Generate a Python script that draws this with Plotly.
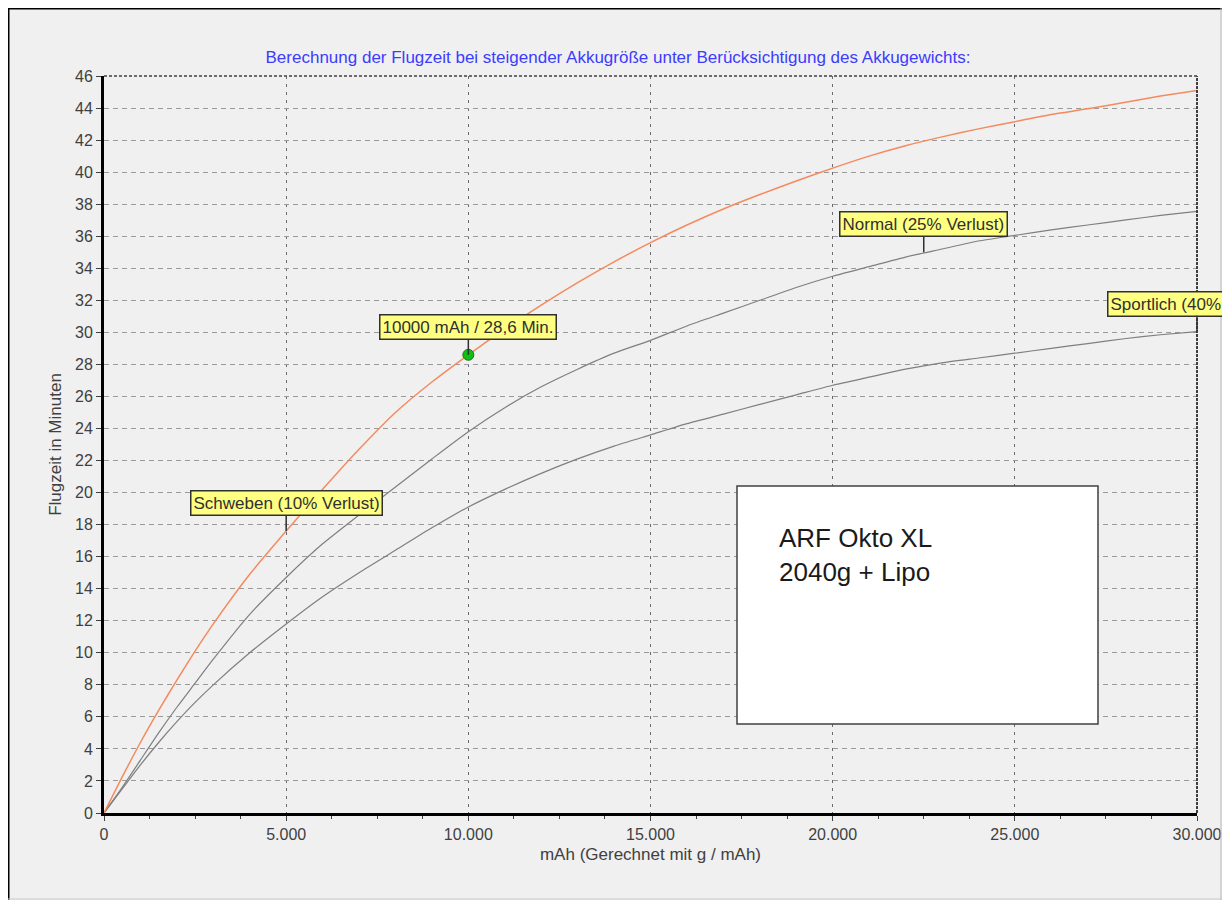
import plotly.graph_objects as go

# ---- data ----
mah = [0, 500, 1000, 1500, 2000, 2500, 3000, 4000, 5000, 6000, 7000, 8000, 9000, 10000,
       11000, 12000, 13000, 14000, 15000, 16000, 17000, 18000, 19000, 20000,
       21000, 22000, 23000, 24000, 25000, 26000, 27000, 28000, 29000, 30000]
schweben = [0, 2.25, 4.4, 6.4, 8.3, 10.1, 11.8, 14.9, 17.6, 20.2, 22.7, 25.0, 26.9, 28.6,
            30.2, 31.7, 33.1, 34.4, 35.6, 36.7, 37.7, 38.6, 39.45, 40.25,
            41.0, 41.65, 42.2, 42.7, 43.15, 43.6, 43.95, 44.35, 44.75, 45.1]
normal = [0, 1.6, 3.3, 5.0, 6.6, 8.1, 9.6, 12.4, 14.7, 16.8, 18.6, 20.35, 22.1, 23.8,
          25.3, 26.6, 27.7, 28.7, 29.5, 30.4, 31.2, 32.0, 32.8, 33.5,
          34.1, 34.7, 35.2, 35.7, 36.05, 36.4, 36.7, 37.0, 37.3, 37.55]
sportlich = [0, 1.5, 3.0, 4.4, 5.7, 6.9, 8.0, 10.0, 11.8, 13.5, 15.0, 16.4, 17.8, 19.1,
             20.2, 21.2, 22.1, 22.9, 23.6, 24.3, 24.9, 25.5, 26.1, 26.7,
             27.2, 27.7, 28.1, 28.4, 28.7, 29.0, 29.3, 29.6, 29.85, 30.05]

marker_x = [10000]
marker_y = [28.6]

x_tickvals = [0, 5000, 10000, 15000, 20000, 25000, 30000]
x_ticktext = ["0", "5.000", "10.000", "15.000", "20.000", "25.000", "30.000"]
y_tickvals = list(range(0, 47, 2))

labels = [
    ("Schweben (10% Verlust)", 5000, 17.6),
    ("10000 mAh / 28,6 Min.", 10000, 28.6),
    ("Normal (25% Verlust)", 22500, 35.0),
    ("Sportlich (40% Verlust)", 30000, 30.05),
]

title = "Berechnung der Flugzeit bei steigender Akkugröße unter Berücksichtigung des Akkugewichts:"
xtitle = "mAh (Gerechnet mit g / mAh)"
ytitle = "Flugzeit in Minuten"
info = "ARF Okto XL<br>2040g + Lipo"

FONT = "Liberation Sans, Arial, sans-serif"

# page offset (body margin) = 8 px
OFF = 8
W, H = 1214, 892
L, T = 104 - OFF, 76 - OFF
R = W - (1197 - OFF)
B = H - (813 - OFF)
pw, ph = W - L - R, H - T - B


def px2x(px):
    return (px - OFF - L) / pw


def py2y(py):
    return (H - B - (py - OFF)) / ph


fig = go.Figure()
fig.add_trace(go.Scatter(x=mah, y=sportlich, mode="lines",
                         line=dict(color="#7f7f7f", width=1.2, shape="spline", smoothing=0.6),
                         cliponaxis=False))
fig.add_trace(go.Scatter(x=mah, y=normal, mode="lines",
                         line=dict(color="#7f7f7f", width=1.2, shape="spline", smoothing=0.6),
                         cliponaxis=False))
fig.add_trace(go.Scatter(x=mah, y=schweben, mode="lines",
                         line=dict(color="#f58a5e", width=1.5, shape="spline", smoothing=0.6),
                         cliponaxis=False))
fig.add_trace(go.Scatter(x=marker_x, y=marker_y, mode="markers",
                         marker=dict(color="#10c010", size=11,
                                     line=dict(color="#2a6a2a", width=1)),
                         cliponaxis=False))

shapes = []
# outer page frame (figure edges)
shapes.append(dict(type="line", xref="paper", yref="paper", x0=px2x(OFF + 0.75), x1=px2x(OFF + 0.75),
                   y0=py2y(OFF), y1=py2y(OFF + H), line=dict(color="#000000", width=1.5)))
shapes.append(dict(type="line", xref="paper", yref="paper", x0=px2x(OFF), x1=px2x(OFF + W),
                   y0=py2y(OFF + 0.75), y1=py2y(OFF + 0.75), line=dict(color="#000000", width=1.5)))
shapes.append(dict(type="line", xref="paper", yref="paper", x0=px2x(OFF + W - 1), x1=px2x(OFF + W - 1),
                   y0=py2y(OFF), y1=py2y(OFF + H), line=dict(color="#b8b8b8", width=1)))
shapes.append(dict(type="line", xref="paper", yref="paper", x0=px2x(OFF), x1=px2x(OFF + W),
                   y0=py2y(OFF + H - 1), y1=py2y(OFF + H - 1), line=dict(color="#c8c8c8", width=1)))
# top & right dashed plot border
shapes.append(dict(type="line", xref="paper", yref="paper", x0=0, x1=1, y0=1, y1=1,
                   line=dict(color="#404040", width=1.5, dash="3px,2px")))
shapes.append(dict(type="line", xref="paper", yref="paper", x0=1, x1=1, y0=0, y1=1,
                   line=dict(color="#404040", width=2, dash="3px,1px")))
# info box
shapes.append(dict(type="rect", xref="paper", yref="paper",
                   x0=px2x(737), x1=px2x(1098), y0=py2y(724), y1=py2y(486),
                   fillcolor="#ffffff", line=dict(color="#404040", width=1.5), layer="above"))

annotations = []
for text, lx, ly in labels:
    annotations.append(dict(x=lx, y=ly, xref="x", yref="y", text=text, showarrow=True,
                            arrowhead=0, arrowwidth=1.5, arrowcolor="#303030",
                            ax=0, ay=-28, bgcolor="#ffff80", bordercolor="#303030",
                            borderwidth=1.5, borderpad=2,
                            font=dict(family=FONT, size=17, color="#303030")))
annotations.append(dict(x=px2x(777), y=py2y(555), xref="paper", yref="paper", text=info,
                        showarrow=False, xanchor="left", yanchor="middle", align="left",
                        font=dict(family=FONT, size=26, color="#1a1a1a")))

fig.update_layout(
    width=W, height=H,
    autosize=False,
    margin=dict(l=L, r=R, t=T, b=B, autoexpand=False),
    paper_bgcolor="#f0f0f0",
    plot_bgcolor="#f0f0f0",
    showlegend=False,
    font=dict(family=FONT, size=16, color="#404040"),
    title=dict(text=title, x=(618 - OFF) / W, xanchor="center", y=1 - (57 - OFF) / H, yanchor="middle",
               font=dict(family=FONT, size=17, color="#3c3cff")),
    shapes=shapes,
    annotations=annotations,
    xaxis=dict(range=[0, 30000], tickvals=x_tickvals, ticktext=x_ticktext,
               automargin=False,
               showline=True, linecolor="#000000", linewidth=3,
               ticks="outside", ticklen=5, tickcolor="#404040",
               minor=dict(dtick=1250, ticks="outside", ticklen=3, tickcolor="#404040", showgrid=False),
               showgrid=True, gridcolor="#6a6a6a", griddash="3px,5px", gridwidth=1,
               zeroline=False,
               tickfont=dict(family=FONT, size=16, color="#404040"),
               title=dict(text=xtitle, standoff=6,
                          font=dict(family=FONT, size=17, color="#404040"))),
    yaxis=dict(range=[0, 46], tickvals=y_tickvals,
               automargin=False,
               showline=True, linecolor="#000000", linewidth=3,
               ticks="outside", ticklen=5, tickcolor="#404040",
               showgrid=True, gridcolor="#9a9a9a", griddash="5px,4px", gridwidth=1,
               zeroline=False,
               tickfont=dict(family=FONT, size=16, color="#404040"),
               title=dict(text=ytitle, standoff=10,
                          font=dict(family=FONT, size=17, color="#404040"))),
)

fig.write_html("out.html")
